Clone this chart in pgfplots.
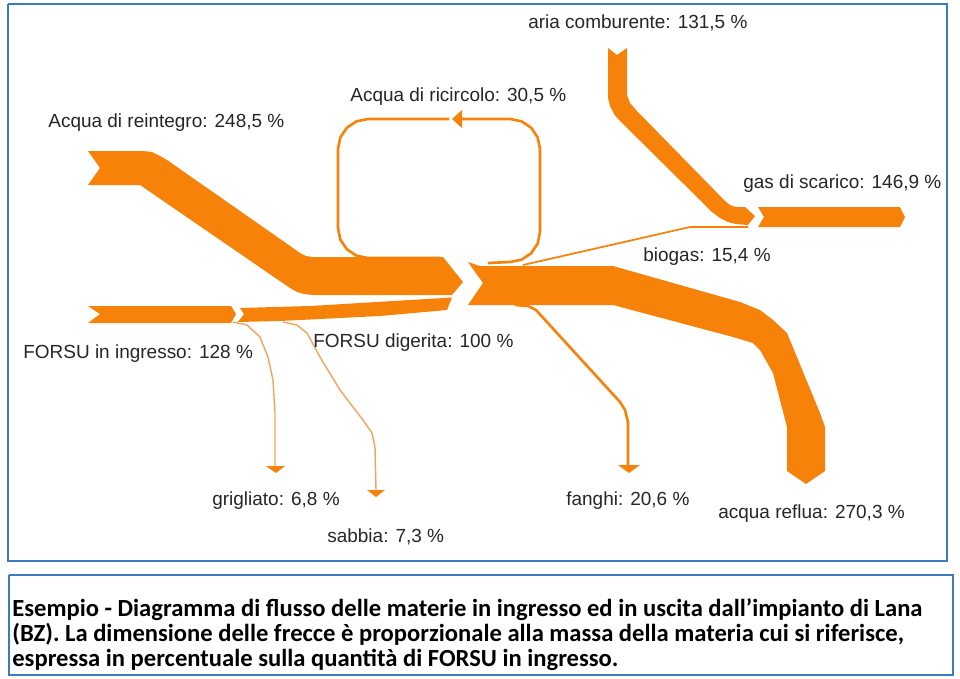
\documentclass[border=0pt]{standalone}
\usepackage{pgfplots}
\pgfplotsset{compat=1.18}
\usepackage{fontspec}
\setmainfont{Liberation Sans}
\newfontfamily\capfont{Carlito}
\definecolor{flow}{HTML}{F7820A}
\definecolor{thin}{HTML}{F3A45C}
\definecolor{frame}{HTML}{3A7DBA}
% pixel grid of the reference: x to the right, y downwards
\pgfplotsset{
    sankey/.style = {fill = flow, draw = none, forget plot}
}
\tikzset{
    lbl/.style = {anchor = base west, inner sep = 0pt, font = \fontsize{10.8}{12}\selectfont, text = black!85},
    captxt/.style = {anchor = base west, inner sep = 0pt, font = \capfont\bfseries\fontsize{14}{16}\selectfont}
}

\begin{document}
\begin{tikzpicture}
    \begin{axis}[
        scale only axis,
        width = 19.2cm,
        height = 13.56cm,
        xmin = 0, xmax = 960,
        ymin = 0, ymax = 678,
        y dir = reverse,
        hide axis,
        clip = false
    ]
        % frames
        \addplot[draw = frame, line width = 1.1pt] coordinates {(8,4) (947,4) (947,561) (8,561) (8,4)};
        \addplot[draw = frame, line width = 1.1pt] coordinates {(9,575) (953,575) (953,675) (9,675) (9,575)};

        % Acqua di reintegro, into the digester
        \addplot[sankey] coordinates {(88,151) (143,151) (152,152) (160,156) (167,160) (293,248) (300,253) (306,256) (313,257)
            (443,257) (463,282) (452,295) (313,295) (304,294) (297,292) (290,288) (140,185) (88,185) (100,168)};
        % FORSU in ingresso
        \addplot[sankey] coordinates {(88,306) (231,306) (236,314) (231,323) (88,323) (100,314)};
        % FORSU digerita
        \addplot[sankey] coordinates {(240,308) (310,306) (452,297.5) (447,310) (380,316) (280,321) (238,322) (244,314)};
        % out of the digester, acqua reflua
        \addplot[sankey] coordinates {(468,262) (480,266) (613,266) (740,302) (760,310) (773,320) (787,333) (820,413) (825,427)
            (825,471) (806,484) (787,471) (787,427) (773,373) (760,350) (753,343) (733,337) (613,305) (468,305) (483,283)};
        % aria comburente
        \addplot[sankey] coordinates {(608,48) (608,98) (610,106) (614,114) (618,119) (705,205) (712,212) (720,218) (728,222)
            (736,224) (748,225) (755,216) (745,207) (736,207) (730,205) (725,201) (636,110) (630,103) (627,95) (627,48) (617,55)};
        % gas di scarico
        \addplot[sankey] coordinates {(758,207) (900,207) (905,217) (900,227) (758,227) (764,217)};

        % acqua di ricircolo
        \addplot[draw = flow, line width = 1.5pt, line join = round] coordinates {(488,263) (510,262) (521.5,259.7) (531.2,253.2) (537.7,243.5) (540,232)
            (540,149) (537.7,137.5) (531.2,127.8) (521.5,121.3) (510,119) (460,119)};
        \addplot[draw = flow, line width = 1.5pt, line join = round] coordinates {(449,119) (368,119) (356.5,121.3) (346.8,127.8) (340.3,137.5) (338,149)
            (338,228) (340.3,239.5) (346.8,249.2) (356.5,255.7) (368,258) (440,258)};
        \addplot[sankey] coordinates {(452,119) (462,110) (462,128)};

        % biogas
        \addplot[draw = flow, line width = 1pt] coordinates {(523,265) (690,227) (748,227)};
        % fanghi
        \addplot[draw = flow, line width = 1.5pt, line join = round] coordinates {(515,305) (528,306) (536,310) (620,402) (625,410) (628,422) (628,466)};
        \addplot[sankey] coordinates {(618,465) (640,465) (629,473)};
        % grigliato
        \addplot[draw = thin, line width = 0.8pt] coordinates {(233,322) (247,325) (260,337) (268,357) (273,380) (275,413) (275,467)};
        \addplot[sankey] coordinates {(266,466) (285,466) (276,473)};
        % sabbia
        \addplot[draw = thin, line width = 0.8pt] coordinates {(283,322) (297,325) (307,333) (320,357) (340,390) (363,420) (372,433) (375,447) (376,490)};
        \addplot[sankey] coordinates {(367,490) (385,490) (376,497)};

        % labels
        \node[lbl] at (axis cs:528,29) {aria comburente: 131,5 \%};
        \node[lbl] at (axis cs:350,102) {Acqua di ricircolo: 30,5 \%};
        \node[lbl] at (axis cs:48,127) {Acqua di reintegro: 248,5 \%};
        \node[lbl] at (axis cs:743,188) {gas di scarico: 146,9 \%};
        \node[lbl] at (axis cs:643,261) {biogas: 15,4 \%};
        \node[lbl] at (axis cs:313,347) {FORSU digerita: 100 \%};
        \node[lbl] at (axis cs:23,358) {FORSU in ingresso: 128 \%};
        \node[lbl] at (axis cs:212,505) {grigliato: 6,8 \%};
        \node[lbl] at (axis cs:566,505) {fanghi: 20,6 \%};
        \node[lbl] at (axis cs:718,518) {acqua reflua: 270,3 \%};
        \node[lbl] at (axis cs:327,542) {sabbia: 7,3 \%};

        % caption
        \node[captxt] at (axis cs:12,616) {Esempio - Diagramma di flusso delle materie in ingresso ed in uscita dall’impianto di Lana};
        \node[captxt] at (axis cs:12,641) {(BZ). La dimensione delle frecce è proporzionale alla massa della materia cui si riferisce,};
        \node[captxt] at (axis cs:12,666) {espressa in percentuale sulla quantità di FORSU in ingresso.};
    \end{axis}
    \pgfresetboundingbox
    \useasboundingbox (0,0) rectangle (19.2cm,13.56cm);
\end{tikzpicture}
\end{document}
